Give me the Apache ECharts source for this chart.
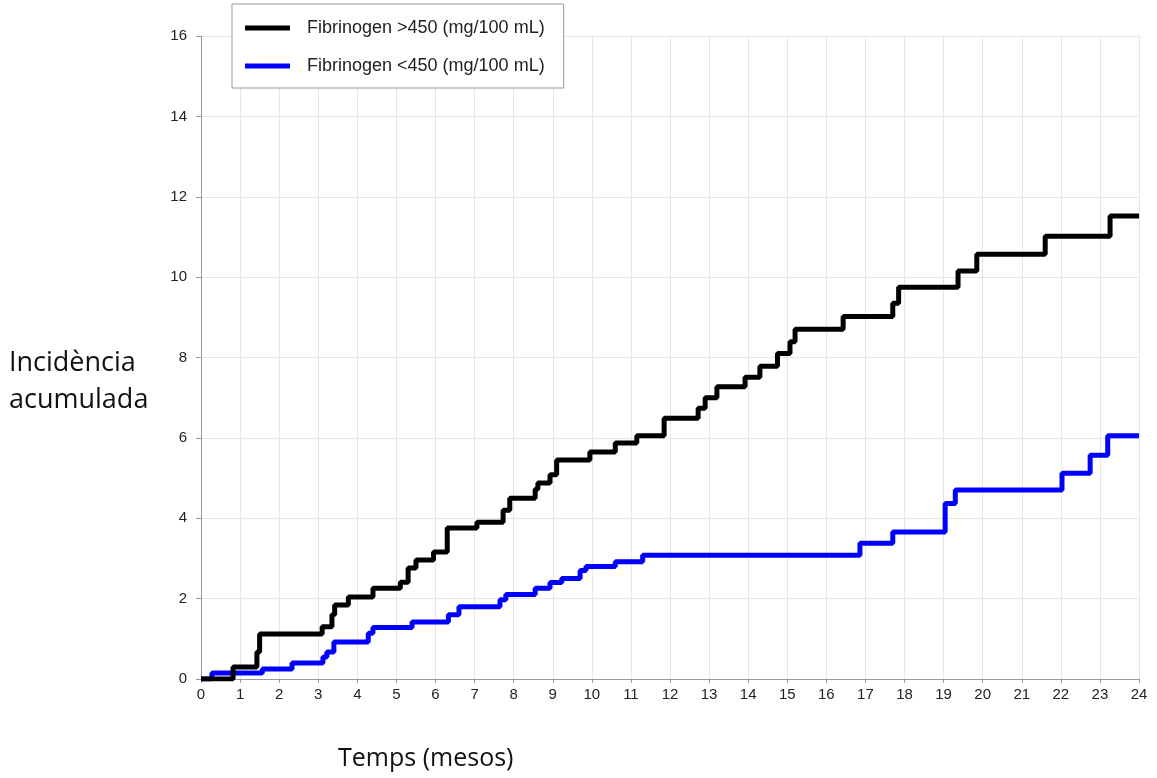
<!DOCTYPE html>
<html>
<head>
<meta charset="utf-8">
<script src="https://cdn.jsdelivr.net/npm/echarts@6/dist/echarts.min.js"></script>
<style>html,body{margin:0;padding:0;background:#fff}#c{width:1157px;height:778px}</style>
</head>
<body>
<div id="c"></div>
<script>
const seriesNames = ['Fibrinogen >450 (mg/100 mL)', 'Fibrinogen <450 (mg/100 mL)'];
const xTicks = [0,1,2,3,4,5,6,7,8,9,10,11,12,13,14,15,16,17,18,19,20,21,22,23,24];
const yTicks = [0,2,4,6,8,10,12,14,16];
// step start times (months) and cumulative incidence values
const highTimes = [0,0.82,1.43,1.5,3.1,3.35,3.42,3.77,4.4,5.1,5.3,5.5,5.95,6.3,7.06,7.73,7.9,8.55,8.62,8.93,9.1,9.95,10.6,11.15,11.85,12.72,12.9,13.2,13.92,14.3,14.75,15.07,15.2,16.43,17.7,17.85,19.37,19.85,21.6,23.26,24];
const highVals  = [0,0.3,0.67,1.12,1.3,1.6,1.84,2.04,2.26,2.41,2.76,2.96,3.16,3.76,3.9,4.2,4.5,4.72,4.88,5.08,5.45,5.65,5.87,6.05,6.49,6.74,7.0,7.27,7.51,7.78,8.1,8.39,8.7,9.02,9.35,9.75,10.15,10.57,11.02,11.52,11.52];
const lowTimes = [0,0.28,1.57,2.33,3.12,3.22,3.4,4.28,4.4,5.4,6.33,6.6,7.65,7.8,8.55,8.93,9.23,9.7,9.85,10.6,11.3,16.86,17.7,19.04,19.3,22.03,22.75,23.2,24];
const lowVals  = [0,0.15,0.25,0.4,0.55,0.67,0.92,1.14,1.28,1.42,1.6,1.8,1.97,2.1,2.26,2.4,2.5,2.7,2.8,2.92,3.08,3.38,3.66,4.37,4.7,5.12,5.57,6.05,6.05];

const pair = (ts, vs) => ts.map((t, i) => [t, vs[i]]);
const chart = echarts.init(document.getElementById('c'), null, {renderer: 'canvas'});
const font = 'Liberation Sans, Arial, sans-serif';
chart.setOption({
  animation: false,
  backgroundColor: '#fff',
  grid: {left: 201, right: 18, top: 36, bottom: 99, containLabel: false},
  legend: {
    left: 232, top: 4, orient: 'vertical',
    backgroundColor: '#fff',
    borderColor: '#999', borderWidth: 1, borderRadius: 0,
    padding: [14, 19, 12, 13],
    itemGap: 18, itemWidth: 45, itemHeight: 5,
    icon: 'rect',
    textStyle: {fontFamily: font, fontSize: 18, lineHeight: 20, color: '#222', padding: [0, 0, 0, 12]},
    data: seriesNames
  },
  xAxis: {
    type: 'value', min: 0, max: 24, interval: 1,
    axisLine: {show: true, lineStyle: {color: '#999', width: 1}},
    axisTick: {show: true, length: 4, lineStyle: {color: '#999'}},
    axisLabel: {fontFamily: font, fontSize: 15, color: '#222', margin: 8,
      formatter: v => xTicks.includes(v) ? String(v) : ''},
    splitLine: {show: true, lineStyle: {color: '#e6e6e6', width: 1}}
  },
  yAxis: {
    type: 'value', min: 0, max: 16, interval: 2,
    axisLine: {show: true, lineStyle: {color: '#999', width: 1}},
    axisTick: {show: true, length: 5, lineStyle: {color: '#999'}},
    axisLabel: {fontFamily: font, fontSize: 15, color: '#222', margin: 14,
      formatter: v => yTicks.includes(v) ? String(v) : ''},
    splitLine: {show: true, lineStyle: {color: '#e6e6e6', width: 1}}
  },
  graphic: [
    {type: 'text', x: 9, y: 382, style: {text: 'Incidència\nacumulada', fontFamily: 'Open Sans, sans-serif', fontSize: 27, lineHeight: 37, fill: '#111', textVerticalAlign: 'middle'}},
    {type: 'text', x: 338, y: 759, style: {text: 'Temps (mesos)', fontFamily: 'Open Sans, sans-serif', fontSize: 25, fill: '#111', textVerticalAlign: 'middle'}}
  ],
  series: [
    {name: seriesNames[0], type: 'line', step: 'end', showSymbol: false, symbol: 'none',
     lineStyle: {color: '#000', width: 5}, itemStyle: {color: '#000'}, data: pair(highTimes, highVals), z: 3},
    {name: seriesNames[1], type: 'line', step: 'end', showSymbol: false, symbol: 'none',
     lineStyle: {color: '#0000ff', width: 5}, itemStyle: {color: '#0000ff'}, data: pair(lowTimes, lowVals), z: 2}
  ]
});
</script>
</body>
</html>
